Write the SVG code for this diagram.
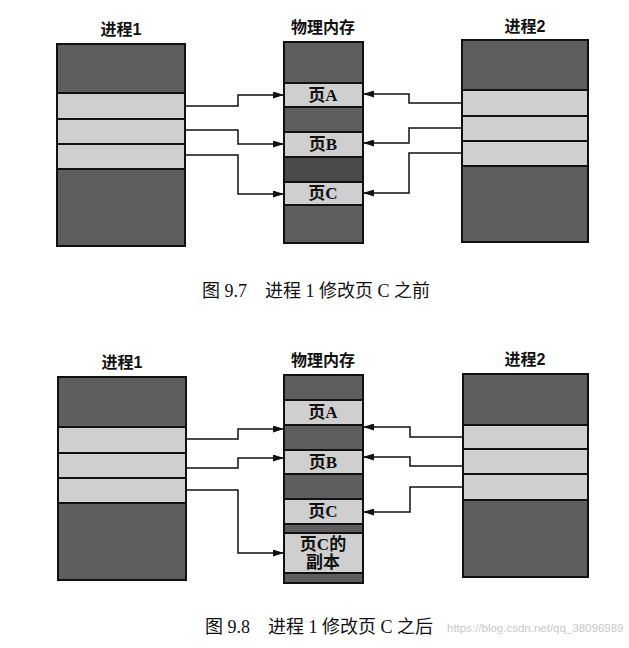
<svg xmlns="http://www.w3.org/2000/svg" width="629" height="648" viewBox="0 0 629 648">
<style>
.dk{fill:#5e5e5e;stroke:#111;stroke-width:2}
.dk2{fill:#4a4a4a;stroke:#111;stroke-width:2}
.lt{fill:#cfcfcf;stroke:#111;stroke-width:2}
.ttl{font-family:"Liberation Sans","Noto Sans CJK SC",sans-serif;font-weight:bold;font-size:16px;fill:#111;text-anchor:middle}
.pg{font-family:"Liberation Serif","Noto Sans CJK SC",serif;font-weight:bold;font-size:17px;fill:#111;text-anchor:middle}
.cap{font-family:"Liberation Serif","Noto Sans CJK SC",serif;font-size:18px;fill:#111}
.wm{font-family:"Liberation Sans",sans-serif;font-size:11.5px;fill:#c8c8c8}
.cn{fill:none;stroke:#111;stroke-width:1.5}
</style>
<defs>
<marker id="ah" markerUnits="userSpaceOnUse" markerWidth="11" markerHeight="7" refX="10" refY="3.5" orient="auto">
<path d="M0,0 L11,3.5 L0,7 z" fill="#111"/>
</marker>
</defs>
<rect width="629" height="648" fill="#fff"/>

<!-- Figure 9.7 -->
<g id="p1a">
<text class="ttl" x="121" y="35">进程1</text>
<rect class="dk" x="57" y="44" width="128" height="49"/>
<rect class="lt" x="57" y="93" width="128" height="26"/>
<rect class="lt" x="57" y="119" width="128" height="25"/>
<rect class="lt" x="57" y="144" width="128" height="25"/>
<rect class="dk" x="57" y="169" width="128" height="77"/>
</g>
<g id="mema">
<text class="ttl" x="323" y="33">物理内存</text>
<rect class="dk" x="284" y="42" width="79" height="41"/>
<rect class="lt" x="284" y="83" width="79" height="24"/>
<rect class="dk" x="284" y="107" width="79" height="25"/>
<rect class="lt" x="284" y="132" width="79" height="25"/>
<rect class="dk2" x="284" y="157" width="79" height="25"/>
<rect class="lt" x="284" y="182" width="79" height="23"/>
<rect class="dk" x="284" y="205" width="79" height="38"/>
<text class="pg" x="323" y="101">页A</text>
<text class="pg" x="323" y="150">页B</text>
<text class="pg" x="323" y="199">页C</text>
</g>
<g id="p2a">
<text class="ttl" x="525" y="32">进程2</text>
<rect class="dk" x="462" y="40" width="126" height="50"/>
<rect class="lt" x="462" y="90" width="126" height="26"/>
<rect class="lt" x="462" y="116" width="126" height="25"/>
<rect class="lt" x="462" y="141" width="126" height="25"/>
<rect class="dk" x="462" y="166" width="126" height="76"/>
</g>
<text class="cap" x="202" y="297">图 9.7　进程 1 修改页 C 之前</text>

<!-- Figure 9.8 -->
<g id="p1b">
<text class="ttl" x="122" y="368">进程1</text>
<rect class="dk" x="58" y="377" width="128" height="50"/>
<rect class="lt" x="58" y="427" width="128" height="26"/>
<rect class="lt" x="58" y="453" width="128" height="25"/>
<rect class="lt" x="58" y="478" width="128" height="25"/>
<rect class="dk" x="58" y="503" width="128" height="77"/>
</g>
<g id="memb">
<text class="ttl" x="323" y="366">物理内存</text>
<rect class="dk" x="284" y="375" width="79" height="25"/>
<rect class="lt" x="284" y="400" width="79" height="25"/>
<rect class="dk" x="284" y="425" width="79" height="25"/>
<rect class="lt" x="284" y="450" width="79" height="24"/>
<rect class="dk" x="284" y="474" width="79" height="25"/>
<rect class="lt" x="284" y="499" width="79" height="25"/>
<rect class="dk" x="284" y="524" width="79" height="9"/>
<rect class="lt" x="284" y="533" width="79" height="40"/>
<rect class="dk" x="284" y="573" width="79" height="10"/>
<text class="pg" x="323" y="418">页A</text>
<text class="pg" x="323" y="468">页B</text>
<text class="pg" x="323" y="517">页C</text>
<text class="pg" x="323" y="550">页C的</text>
<text class="pg" x="323" y="568">副本</text>
</g>
<g id="p2b">
<text class="ttl" x="525" y="365">进程2</text>
<rect class="dk" x="463" y="374" width="125" height="51"/>
<rect class="lt" x="463" y="425" width="125" height="24"/>
<rect class="lt" x="463" y="449" width="125" height="25"/>
<rect class="lt" x="463" y="474" width="125" height="26"/>
<rect class="dk" x="463" y="500" width="125" height="77"/>
</g>
<text class="cap" x="205" y="633">图 9.8　进程 1 修改页 C 之后</text>
<text class="wm" x="447" y="632">https://blog.csdn.net/qq_38096989</text>

<g id="connectors">
<path class="cn" marker-end="url(#ah)" d="M186,106 H238 V95 H283"/>
<path class="cn" marker-end="url(#ah)" d="M186,130 H238 V144 H283"/>
<path class="cn" marker-end="url(#ah)" d="M186,155 H238 V194 H283"/>
<path class="cn" marker-end="url(#ah)" d="M461,103 H409 V94 H364"/>
<path class="cn" marker-end="url(#ah)" d="M461,128 H409 V143 H364"/>
<path class="cn" marker-end="url(#ah)" d="M461,153 H409 V193 H364"/>
<path class="cn" marker-end="url(#ah)" d="M187,439 H238 V429 H283"/>
<path class="cn" marker-end="url(#ah)" d="M187,468 H238 V458 H283"/>
<path class="cn" marker-end="url(#ah)" d="M187,490 H238 V553 H283"/>
<path class="cn" marker-end="url(#ah)" d="M462,437 H410 V427 H364"/>
<path class="cn" marker-end="url(#ah)" d="M462,466 H410 V457 H364"/>
<path class="cn" marker-end="url(#ah)" d="M462,487 H410 V512 H364"/>
</g>
</svg>
